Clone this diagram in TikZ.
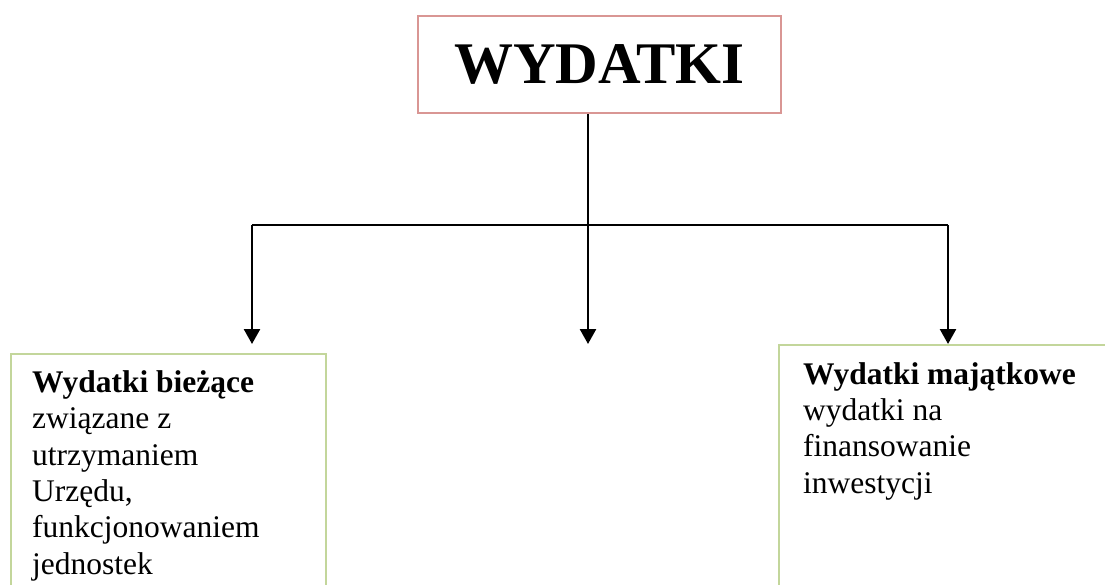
\documentclass[tikz,border=0pt]{standalone}
\usepackage{fontspec}
\setmainfont{Liberation Serif}
\usetikzlibrary{arrows.meta}
\definecolor{pinkb}{HTML}{D99694}
\definecolor{greenb}{HTML}{C3D69B}
\begin{document}
\begin{tikzpicture}[x=1pt,y=1pt,
  topbox/.style={draw=pinkb, line width=2.2pt, minimum width=363pt, minimum height=97pt, inner sep=0pt,
    font=\fontsize{59}{70}\selectfont\bfseries},
  subbox/.style={draw=greenb, line width=2.2pt, anchor=north west, inner sep=0pt},
  bodytext/.style={anchor=base west, inner sep=0pt, align=left, font=\fontsize{31.5}{36.3}\selectfont},
  link/.style={line width=2pt},
  arr/.style={line width=2.5pt, -{Triangle[width=16pt,length=15pt]}}
]
\useasboundingbox (0,0) rectangle (1105,-584);
\node[topbox] (top) at (599.5,-64.5) {WYDATKI};
\node[subbox, minimum width=315pt, minimum height=260pt] (left) at (10,-353) {};
\node[subbox, minimum width=340pt, minimum height=260pt] (right) at (778,-344) {};
\node[bodytext] (lt) at (32,-574) {\textbf{Wydatki bieżące}\\związane z\\utrzymaniem\\Urzędu,\\funkcjonowaniem\\jednostek};
\node[bodytext] (rt) at (803,-493) {\textbf{Wydatki majątkowe}\\wydatki na\\finansowanie\\inwestycji};
\coordinate (j) at (588,-225);
\coordinate (hl) at (252,-225);
\coordinate (hr) at (948,-225);
\coordinate (eL) at (252,-344);
\coordinate (eM) at (588,-344);
\coordinate (eR) at (948,-344);
\draw[line width=2.5pt] (top.south -| j) -- (j);
\draw[link] (hl) -- (hr);
\draw[arr] (hl) -- (eL);
\draw[arr] (j) -- (eM);
\draw[arr] (hr) -- (eR);
\end{tikzpicture}
\end{document}
